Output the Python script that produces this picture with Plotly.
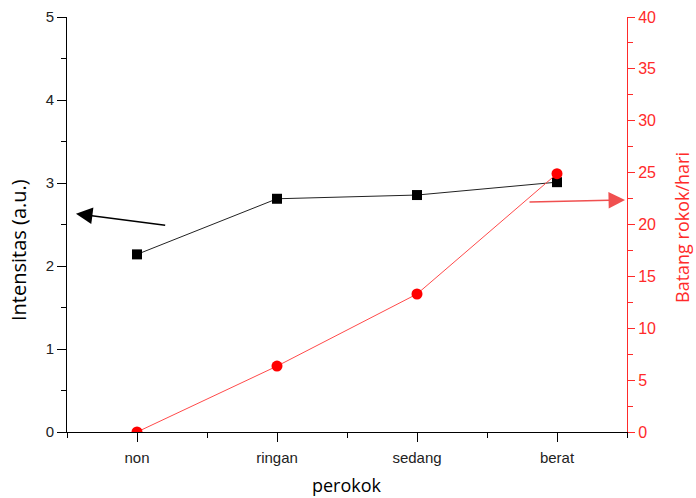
import plotly.graph_objects as go

categories = ["non", "ringan", "sedang", "berat"]
intensitas = [2.14, 2.81, 2.855, 3.01]
batang = [0.0, 6.35, 13.3, 24.9]

xpos = list(range(len(categories)))

fig = go.Figure()
fig.add_trace(go.Scatter(
    x=xpos, y=intensitas, mode="lines+markers",
    line=dict(color="#222222", width=1),
    marker=dict(symbol="square", size=10, color="black"),
    yaxis="y", showlegend=False))
fig.add_trace(go.Scatter(
    x=xpos, y=batang, mode="lines+markers",
    line=dict(color="#FF4A4A", width=1),
    marker=dict(symbol="circle", size=11, color="#FF0000"),
    yaxis="y2", showlegend=False))

tickfont = dict(family="Liberation Sans, Arial", size=15, color="#222222")
redtick = dict(family="Liberation Sans, Arial", size=16, color="#FF2A2A")

fig.update_layout(
    width=696, height=498,
    margin=dict(l=67, r=69, t=17, b=66),
    paper_bgcolor="white", plot_bgcolor="white",
    xaxis=dict(
        range=[-0.5, 3.5], tickvals=xpos, ticktext=categories, automargin=False,
        showgrid=False, zeroline=False, showline=True, linecolor="black", linewidth=1,
        ticks="outside", ticklen=9, tickcolor="black", tickwidth=1, ticklabelstandoff=3,
        tickfont=dict(family="Liberation Sans, Arial", size=15, color="#222222"),
        minor=dict(tickvals=[-0.5, 0.5, 1.5, 2.5, 3.5], ticks="outside", ticklen=5,
                   tickcolor="black", tickwidth=1),
    ),
    yaxis=dict(
        range=[0, 5], dtick=1, showgrid=False, zeroline=False, automargin=False,
        showline=True, linecolor="black", linewidth=1,
        ticks="outside", ticklen=9, tickcolor="black", tickwidth=1,
        minor=dict(dtick=0.5, ticks="outside", ticklen=5, tickcolor="black", tickwidth=1),
        tickfont=tickfont,
    ),
    yaxis2=dict(
        range=[0, 40], dtick=5, overlaying="y", side="right", anchor="x", automargin=False,
        showgrid=False, zeroline=False,
        showline=True, linecolor="#FF2A2A", linewidth=1,
        ticks="outside", ticklen=7, tickcolor="#FF2A2A", tickwidth=1,
        minor=dict(dtick=2.5, ticks="outside", ticklen=5, tickcolor="#FF2A2A", tickwidth=1),
        tickfont=redtick,
    ),
    annotations=[
        dict(x=-0.436, y=2.63, ax=0.212, ay=2.49, xref="x", yref="y", axref="x", ayref="y",
             showarrow=True, arrowhead=2, arrowsize=2.2, arrowwidth=1.5, arrowcolor="black", text=""),
        dict(x=3.486, y=2.795, ax=2.793, ay=2.77, xref="x", yref="y", axref="x", ayref="y",
             showarrow=True, arrowhead=2, arrowsize=2.2, arrowwidth=1.5, arrowcolor="#F05050", text=""),
        dict(text="perokok", xref="paper", yref="paper", x=0.5, y=-0.1277,
             xanchor="center", yanchor="middle", showarrow=False,
             font=dict(family="Open Sans", size=18, color="black")),
        dict(text="Intensitas (a.u.)", xref="paper", yref="paper", x=-0.0857, y=0.4386,
             xanchor="center", yanchor="middle", showarrow=False, textangle=-90,
             font=dict(family="Open Sans", size=20, color="black")),
        dict(text="Batang rokok/hari", xref="paper", yref="paper", x=1.0982, y=0.494,
             xanchor="center", yanchor="middle", showarrow=False, textangle=-90,
             font=dict(family="Open Sans", size=18, color="#FF2A2A")),
    ],
)

# remove the page's default 8px body margin so the figure fills the window exactly
fig.write_html("out.html", config={"displayModeBar": False},
               post_script="document.body.style.margin='0';document.body.style.overflow='hidden';")
